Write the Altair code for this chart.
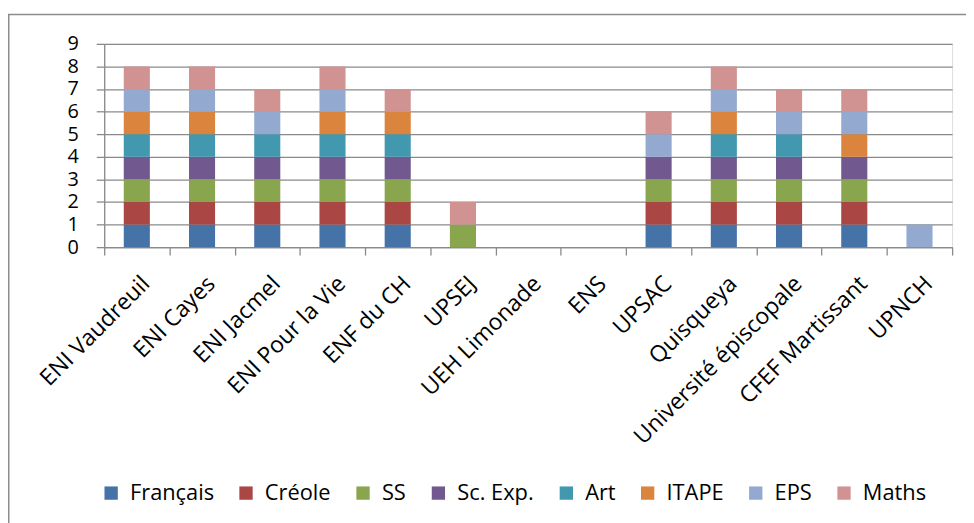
import altair as alt
import pandas as pd

categories = ["ENI Vaudreuil", "ENI Cayes", "ENI Jacmel", "ENI Pour la Vie", "ENF du CH",
              "UPSEJ", "UEH Limonade", "ENS", "UPSAC", "Quisqueya",
              "Université épiscopale", "CFEF Martissant", "UPNCH"]
series = ["Français", "Créole", "SS", "Sc. Exp.", "Art", "ITAPE", "EPS", "Maths"]
colors = ["#4572a7", "#aa4643", "#89a54e", "#71588f", "#4198af", "#db843d", "#93a9cf", "#d19392"]

francais = [1, 1, 1, 1, 1, 0, 0, 0, 1, 1, 1, 1, 0]
creole   = [1, 1, 1, 1, 1, 0, 0, 0, 1, 1, 1, 1, 0]
ss       = [1, 1, 1, 1, 1, 1, 0, 0, 1, 1, 1, 1, 0]
sc_exp   = [1, 1, 1, 1, 1, 0, 0, 0, 1, 1, 1, 1, 0]
art      = [1, 1, 1, 1, 1, 0, 0, 0, 0, 1, 1, 0, 0]
itape    = [1, 1, 0, 1, 1, 0, 0, 0, 0, 1, 0, 1, 0]
eps      = [1, 1, 1, 1, 0, 0, 0, 0, 1, 1, 1, 1, 1]
maths    = [1, 1, 1, 1, 1, 1, 0, 0, 1, 1, 1, 1, 0]

values = [francais, creole, ss, sc_exp, art, itape, eps, maths]

rows = []
for si, (s, vals) in enumerate(zip(series, values)):
    for c, v in zip(categories, vals):
        rows.append({"cat": c, "series": s, "idx": si, "value": v})
df = pd.DataFrame(rows)

FONT = "Open Sans"
GRID = "#8a8a8a"

bars = alt.Chart(df).mark_bar(width=alt.RelativeBandSize(0.4)).encode(
    x=alt.X("cat:N", sort=categories, title=None,
            scale=alt.Scale(paddingInner=0, paddingOuter=0),
            axis=alt.Axis(labelAngle=-45, labelAlign="right", labelBaseline="middle",
                          labelFont=FONT, labelFontSize=23, labelColor="#000",
                          labelOffset=9, labelPadding=25, tickBand="extent",
                          tickSize=8, tickColor=GRID, tickWidth=1.3,
                          domainColor=GRID, domainWidth=1.3, grid=False,
                          labelOverlap=False, labelLimit=0)),
    y=alt.Y("value:Q", stack="zero", title=None,
            scale=alt.Scale(domain=[0, 9], nice=False),
            axis=alt.Axis(values=list(range(10)), labelFont=FONT, labelFontSize=20,
                          labelColor="#000", labelPadding=18, tickSize=8,
                          tickColor=GRID, tickWidth=1.3, domainColor=GRID, domainWidth=1.3,
                          gridColor=GRID, gridWidth=1.3, gridOpacity=1)),
    color=alt.Color("series:N", scale=alt.Scale(domain=series, range=colors),
                    legend=alt.Legend(title=None, orient="none", direction="horizontal",
                                      legendX=-4, legendY=442, labelFont=FONT,
                                      labelFontSize=22, labelColor="#000",
                                      symbolType="square", symbolSize=180,
                                      symbolStrokeWidth=0, symbolOpacity=1,
                                      labelOffset=8, columnPadding=21, padding=0,
                                      gridAlign="none", labelLimit=0)),
    order=alt.Order("idx:Q"),
)

frame = alt.Chart(pd.DataFrame({"a": [0]})).mark_rect(
    fill="white", fillOpacity=0, stroke="#8c8c8c", strokeWidth=1.5
).encode(
    x=alt.value(-96.25), x2=alt.value(900),
    y=alt.value(-29.5), y2=alt.value(520),
)

chart = alt.layer(frame, bars).properties(
    width=855, height=205,
    autosize=alt.AutoSizeParams(type="none"),
    padding={"left": 97, "top": 34, "right": 14, "bottom": 276},
).configure_view(stroke=None).configure(background="white")

chart.save("out.html", embed_options={"renderer": "svg", "actions": False})
